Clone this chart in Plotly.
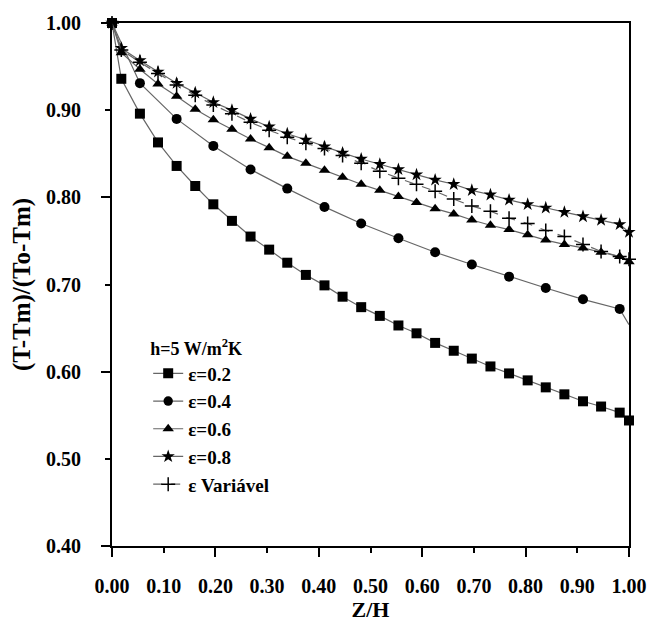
import plotly.graph_objects as go

# ---- data ----
z_full = [0.0, 0.018, 0.054, 0.089, 0.125, 0.161, 0.196, 0.232, 0.268, 0.304,
          0.339, 0.375, 0.411, 0.446, 0.482, 0.518, 0.554, 0.589, 0.625, 0.661,
          0.696, 0.732, 0.768, 0.804, 0.839, 0.875, 0.911, 0.946, 0.982, 1.0]

eps02 = [1.000, 0.936, 0.896, 0.863, 0.836, 0.813, 0.792, 0.773, 0.755, 0.740,
         0.725, 0.711, 0.699, 0.686, 0.674, 0.664, 0.653, 0.644, 0.633, 0.624,
         0.615, 0.606, 0.598, 0.590, 0.582, 0.574, 0.566, 0.560, 0.553, 0.544]

z_eps04 = [0.0, 0.054, 0.125, 0.196, 0.268, 0.339, 0.411, 0.482, 0.554, 0.625,
           0.696, 0.768, 0.839, 0.911, 0.982, 1.0]
eps04 = [1.000, 0.931, 0.890, 0.859, 0.832, 0.810, 0.789, 0.770, 0.753, 0.737,
         0.723, 0.709, 0.696, 0.683, 0.672, 0.654]

eps06 = [1.000, 0.966, 0.947, 0.930, 0.916, 0.901, 0.889, 0.878, 0.867, 0.857,
         0.847, 0.839, 0.831, 0.823, 0.815, 0.808, 0.801, 0.794, 0.787, 0.781,
         0.774, 0.768, 0.763, 0.757, 0.751, 0.746, 0.742, 0.737, 0.732, 0.726]

eps08 = [1.000, 0.971, 0.957, 0.944, 0.931, 0.920, 0.909, 0.900, 0.890, 0.881,
         0.873, 0.866, 0.858, 0.851, 0.844, 0.838, 0.832, 0.826, 0.820, 0.815,
         0.808, 0.803, 0.797, 0.792, 0.788, 0.783, 0.778, 0.774, 0.769, 0.760]

eps_var = [1.000, 0.969, 0.955, 0.942, 0.929, 0.917, 0.906, 0.896, 0.886, 0.877,
           0.869, 0.862, 0.856, 0.848, 0.839, 0.830, 0.822, 0.815, 0.807, 0.798,
           0.790, 0.784, 0.776, 0.770, 0.762, 0.755, 0.746, 0.738, 0.732, 0.729]

x_ticks = [0.0, 0.1, 0.2, 0.3, 0.4, 0.5, 0.6, 0.7, 0.8, 0.9, 1.0]
x_major = [0.0, 0.2, 0.4, 0.6, 0.8, 1.0]
y_ticks = [0.4, 0.5, 0.6, 0.7, 0.8, 0.9, 1.0]
y_major = [0.4, 0.6, 0.8, 1.0]

legend_title = "h=5 W/m<sup>2</sup>K"
names = ["ε=0.2", "ε=0.4", "ε=0.6", "ε=0.8", "ε Variável"]

FONT = "Liberation Serif"
LINE = "#666666"

fig = go.Figure()

def add(x, y, name, symbol, size, dash="solid", sizes=None):
    fig.add_trace(go.Scatter(
        x=x, y=y, name=name, mode="lines+markers", cliponaxis=False,
        line=dict(color=LINE, width=1.2, dash=dash),
        marker=dict(symbol=symbol, size=sizes if sizes else size, color="black",
                    opacity=1,
                    line=dict(color="black", width=1.5 if "cross" in symbol else 0)),
    ))

add(z_full, eps02, names[0], "square", 10)
add(z_eps04, eps04, names[1], "circle", 10,
    sizes=[10] * (len(z_eps04) - 1) + [0])
add(z_full, eps06, names[2], "triangle-up", 10)
add(z_full, eps08, names[3], "star", 10)
add(z_full, eps_var, names[4], "cross-thin", 10, dash="dash")

# overlay axes carrying the long (major) ticks
fig.add_trace(go.Scatter(x=[None], y=[None], xaxis="x2", yaxis="y2",
                         showlegend=False, hoverinfo="skip"))

tickfont = dict(family=FONT, size=20, color="black", weight="bold")

fig.update_layout(
    width=659, height=624,
    margin=dict(l=112, r=23, t=23, b=78),
    paper_bgcolor="white", plot_bgcolor="white",
    font=dict(family=FONT, color="black"),
    showlegend=True,
    legend=dict(
        x=0.07, y=0.082, xanchor="left", yanchor="bottom",
        bgcolor="rgba(0,0,0,0)",
        font=dict(family=FONT, size=19, color="black", weight="bold"),
        title=dict(text=legend_title, side="top",
                   font=dict(family=FONT, size=18, color="black", weight="bold")),
        tracegroupgap=0, itemwidth=30,
    ),
    xaxis=dict(
        range=[0, 1], tickmode="array", tickvals=x_ticks,
        ticktext=[f"{v:.2f}" for v in x_ticks],
        ticks="outside", ticklen=5, tickwidth=2, tickcolor="black",
        ticklabelstandoff=16,
        showline=True, linewidth=2, linecolor="black", mirror=True,
        showgrid=False, zeroline=False, tickfont=tickfont,
        title=dict(text="Z/H", standoff=0,
                   font=dict(family=FONT, size=22, color="black", weight="bold")),
    ),
    yaxis=dict(
        range=[0.4, 1.0], tickmode="array", tickvals=y_ticks,
        ticktext=[f"{v:.2f}" for v in y_ticks],
        ticks="outside", ticklen=5, tickwidth=2, tickcolor="black",
        ticklabelstandoff=20,
        showline=True, linewidth=2, linecolor="black", mirror=True,
        showgrid=False, zeroline=False, tickfont=tickfont,
        title=dict(text="(T-Tm)/(To-Tm)", standoff=8,
                   font=dict(family=FONT, size=25, color="black", weight="bold")),
    ),
    xaxis2=dict(
        overlaying="x", range=[0, 1], side="bottom", tickmode="array",
        tickvals=x_major, ticks="outside", ticklen=10, tickwidth=2,
        tickcolor="black", showticklabels=False, showgrid=False,
        zeroline=False, showline=False,
    ),
    yaxis2=dict(
        overlaying="y", range=[0.4, 1.0], side="left", tickmode="array",
        tickvals=y_major, ticks="outside", ticklen=10, tickwidth=2,
        tickcolor="black", showticklabels=False, showgrid=False,
        zeroline=False, showline=False,
    ),
)

fig.write_html("out.html")
